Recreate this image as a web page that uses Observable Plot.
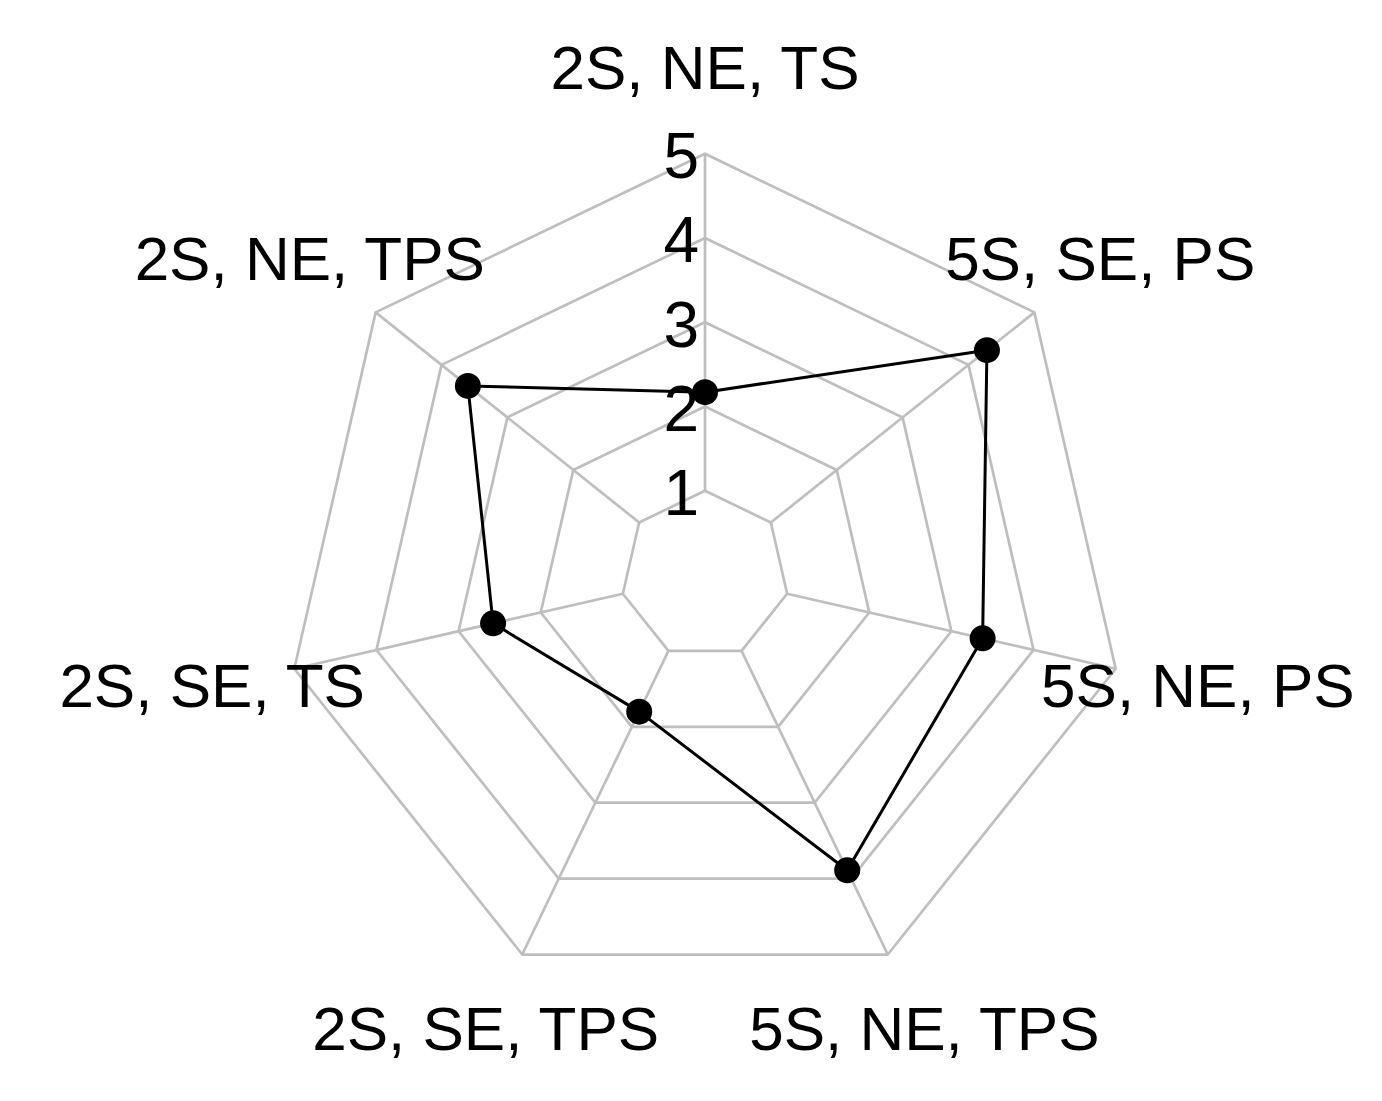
<!DOCTYPE html>
<html>
<head>
<meta charset="utf-8">
<script src="https://cdn.jsdelivr.net/npm/d3@7"></script>
<script src="https://cdn.jsdelivr.net/npm/@observablehq/plot@0.6"></script>
<style>
  html, body { margin: 0; padding: 0; background: #fff; }
  #chart svg { display: block; }
</style>
</head>
<body>
<div id="chart"></div>
<script>
// Axis categories (clockwise from top)
const categories = ["2S, NE, TS", "5S, SE, PS", "5S, NE, PS", "5S, NE, TPS", "2S, SE, TPS", "2S, SE, TS", "2S, NE, TPS"];
// Series values
const values = [2.17, 4.28, 3.38, 3.89, 1.8, 2.58, 3.6];
// Grid levels and tick labels
const levels = [1, 2, 3, 4, 5];
const tickLabels = ["1", "2", "3", "4", "5"];
const labelRadius = 6;

const n = categories.length;
const ang = i => 2 * Math.PI * i / n;
const px = (r, i) => r * Math.sin(ang(i));
const py = (r, i) => r * Math.cos(ang(i));

// Grid rings
const rings = [];
for (const l of levels) {
  for (let i = 0; i <= n; i++) rings.push({level: l, x: px(l, i % n), y: py(l, i % n)});
}
// Spokes
const spokes = categories.map((c, i) => ({
  x1: px(levels[0], i), y1: py(levels[0], i),
  x2: px(levels[levels.length - 1], i), y2: py(levels[levels.length - 1], i)
}));
// Data polygon
const pts = values.map((v, i) => ({cat: categories[i], value: v, x: px(v, i), y: py(v, i)}));
const poly = [...pts, pts[0]];
// Category labels
const catLabels = categories.map((c, i) => ({text: c, x: px(labelRadius, i), y: py(labelRadius, i)}));
// Tick labels
const ticks = levels.map((l, k) => ({text: tickLabels[k], x: -0.28, y: l}));

const W = 1382, H = 1101, unit = 84.25, cx = 704.5, cy = 574.5;

const chart = Plot.plot({
  width: W,
  height: H,
  margin: 0,
  x: {domain: [-cx / unit, (W - cx) / unit], axis: null},
  y: {domain: [(cy - H) / unit, cy / unit], axis: null},
  style: {fontFamily: "'Liberation Sans', Arial, sans-serif", background: "#fff"},
  marks: [
    Plot.line(rings, {x: "x", y: "y", z: "level", stroke: "#BEBEBE", strokeWidth: 2.7, curve: "linear"}),
    Plot.link(spokes, {x1: "x1", y1: "y1", x2: "x2", y2: "y2", stroke: "#BEBEBE", strokeWidth: 2.7}),
    Plot.line(poly, {x: "x", y: "y", stroke: "#000", strokeWidth: 3}),
    Plot.dot(pts, {x: "x", y: "y", r: 13, fill: "#000", stroke: "none"}),
    Plot.text(ticks, {x: "x", y: "y", text: "text", fontSize: 64, textAnchor: "middle", lineAnchor: "middle", dy: 4, fill: "#000"}),
    Plot.text(catLabels, {x: "x", y: "y", text: "text", fontSize: 62, textAnchor: "middle", lineAnchor: "middle", fill: "#000"})
  ]
});
document.getElementById("chart").appendChild(chart);
</script>
</body>
</html>
